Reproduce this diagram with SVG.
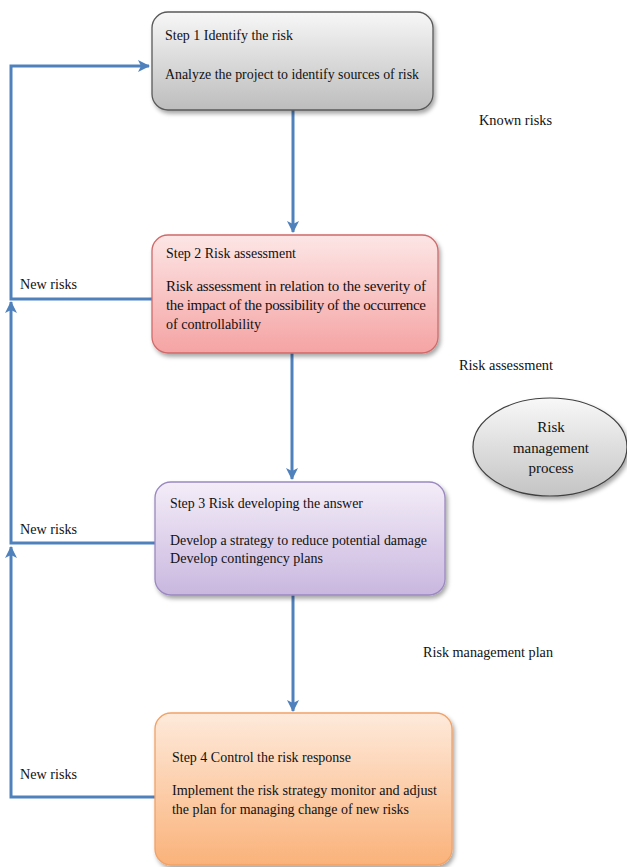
<svg xmlns="http://www.w3.org/2000/svg" width="627" height="867" viewBox="0 0 627 867">
<defs>
<style>
text{font-family:"Liberation Serif","Times New Roman",serif;font-size:15px;fill:#111}
.c{fill:none;stroke:#4f81bd;stroke-width:3}
.box{stroke-width:1.3}
</style>
<filter id="sh" x="-10%" y="-10%" width="125%" height="130%"><feDropShadow dx="2" dy="3" stdDeviation="2" flood-color="#000" flood-opacity="0.35"/></filter>
<linearGradient id="g1" x1="0" y1="0" x2="0" y2="1"><stop offset="0" stop-color="#f7f7f7"/><stop offset="1" stop-color="#bdbdbd"/></linearGradient>
<linearGradient id="g2" x1="0" y1="0" x2="0" y2="1"><stop offset="0" stop-color="#fde6e6"/><stop offset="1" stop-color="#f5a3a3"/></linearGradient>
<linearGradient id="g3" x1="0" y1="0" x2="0" y2="1"><stop offset="0" stop-color="#f4edf8"/><stop offset="1" stop-color="#c9b7df"/></linearGradient>
<linearGradient id="g4" x1="0" y1="0" x2="0" y2="1"><stop offset="0" stop-color="#feeadb"/><stop offset="1" stop-color="#fab27a"/></linearGradient>
<linearGradient id="g5" x1="0" y1="0" x2="0" y2="1"><stop offset="0" stop-color="#f8f8f8"/><stop offset="1" stop-color="#c4c4c4"/></linearGradient>
<marker id="ah" markerUnits="userSpaceOnUse" markerWidth="14" markerHeight="14" viewBox="0 0 14 14" refX="12" refY="7" orient="auto"><path d="M1,1 L13,7 L1,13 L4,7 Z" fill="#4f81bd"/></marker>
</defs>

<g id="connectors">
<path class="c" d="M293,110 V232" marker-end="url(#ah)"/>
<path class="c" d="M292,353 V479" marker-end="url(#ah)"/>
<path class="c" d="M293,595 V711" marker-end="url(#ah)"/>
<path class="c" d="M155,797 H11 V547" marker-end="url(#ah)"/>
<path class="c" d="M155,543 H11 V302" marker-end="url(#ah)"/>
<path class="c" d="M152,299 H11 V66 H149" marker-end="url(#ah)"/>
</g>

<g id="step1">
<rect class="box" x="152" y="12" width="281" height="98" rx="16" fill="url(#g1)" stroke="#595959" filter="url(#sh)"/>
<text x="165" y="40" textLength="128" lengthAdjust="spacingAndGlyphs">Step 1 Identify the risk</text>
<text x="165" y="79" textLength="254" lengthAdjust="spacingAndGlyphs">Analyze the project to identify sources of risk</text>
</g>

<g id="step2">
<rect class="box" x="152" y="235" width="286" height="118" rx="16" fill="url(#g2)" stroke="#d06a6a" filter="url(#sh)"/>
<text x="166" y="258" textLength="130" lengthAdjust="spacingAndGlyphs">Step 2 Risk assessment</text>
<text x="166" y="291" textLength="260" lengthAdjust="spacing">Risk assessment in relation to the severity of</text>
<text x="166" y="310" textLength="260" lengthAdjust="spacing">the impact of the possibility of the occurrence</text>
<text x="166" y="329" textLength="95" lengthAdjust="spacingAndGlyphs">of controllability</text>
</g>

<g id="step3">
<rect class="box" x="155" y="482" width="290" height="113" rx="16" fill="url(#g3)" stroke="#9a88c0" filter="url(#sh)"/>
<text x="170" y="508" textLength="193" lengthAdjust="spacingAndGlyphs">Step 3 Risk developing the answer</text>
<text x="170" y="545" textLength="257" lengthAdjust="spacingAndGlyphs">Develop a strategy to reduce potential damage</text>
<text x="170" y="563" textLength="153" lengthAdjust="spacingAndGlyphs">Develop contingency plans</text>
</g>

<g id="step4">
<rect class="box" x="155" y="713" width="297" height="152" rx="16" fill="url(#g4)" stroke="#f2a266" filter="url(#sh)"/>
<text x="172" y="762" textLength="179" lengthAdjust="spacingAndGlyphs">Step 4 Control the risk response</text>
<text x="172" y="795" textLength="265" lengthAdjust="spacingAndGlyphs">Implement the risk strategy monitor and adjust</text>
<text x="172" y="814" textLength="237" lengthAdjust="spacingAndGlyphs">the plan for managing change of new risks</text>
</g>

<g id="process">
<ellipse cx="550" cy="447" rx="77" ry="49" fill="url(#g5)" stroke="#404040" stroke-width="1.2" filter="url(#sh)"/>
<text x="551" y="432" text-anchor="middle">Risk</text>
<text x="551" y="453" text-anchor="middle" textLength="76" lengthAdjust="spacingAndGlyphs">management</text>
<text x="551" y="473" text-anchor="middle">process</text>
</g>

<g id="labels">
<text x="479" y="125" textLength="73" lengthAdjust="spacingAndGlyphs">Known risks</text>
<text x="459" y="370" textLength="94" lengthAdjust="spacingAndGlyphs">Risk assessment</text>
<text x="423" y="657" textLength="130" lengthAdjust="spacingAndGlyphs">Risk management plan</text>
<text x="20" y="289" textLength="57" lengthAdjust="spacingAndGlyphs">New risks</text>
<text x="20" y="534" textLength="57" lengthAdjust="spacingAndGlyphs">New risks</text>
<text x="20" y="779" textLength="57" lengthAdjust="spacingAndGlyphs">New risks</text>
</g>
</svg>
